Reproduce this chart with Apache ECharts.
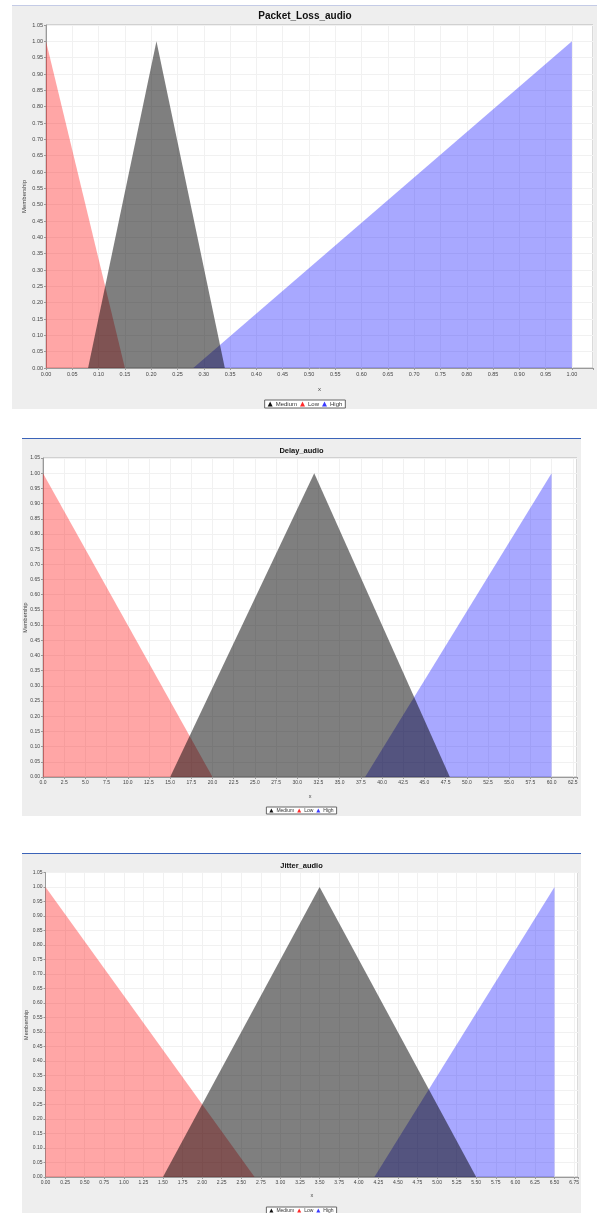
<!DOCTYPE html>
<html>
<head>
<meta charset="utf-8">
<script src="https://cdn.jsdelivr.net/npm/echarts@6/dist/echarts.min.js"></script>
<style>
  html, body { margin: 0; padding: 0; background: #ffffff; width: 597px; height: 1213px; overflow: hidden; }
  .panel { position: absolute; background: #eeeeee; }
</style>
</head>
<body>
<div id="ploss" class="panel" style="left:12px; top:5px; width:586px; height:403px; border-top:1px solid #c4cbe6;"></div>
<div id="delay" class="panel" style="left:22px; top:438px; width:559px; height:377px; border-top:1px solid #3b63b8;"></div>
<div id="jitter" class="panel" style="left:22px; top:853px; width:559px; height:360px; border-top:1px solid #3b63b8;"></div>
<script>
// Membership function vertices [x, membership]
const plossLow = [[0, 1], [0.15, 0]];
const plossMedium = [[0.08, 0], [0.21, 1], [0.34, 0]];
const plossHigh = [[0.28, 0], [1, 1]];

const delayLow = [[0, 1], [20, 0]];
const delayMedium = [[15, 0], [32, 1], [48, 0]];
const delayHigh = [[38, 0], [60, 1]];

const jitterLow = [[0, 1], [2.67, 0]];
const jitterMedium = [[1.5, 0], [3.5, 1], [5.5, 0]];
const jitterHigh = [[4.2, 0], [6.5, 1]];

const seriesNames = ['Medium', 'Low', 'High'];
const yTickStep = 0.05;
const yTop = 1.05;

const fillColors = {
  Medium: 'rgba(0,0,0,0.5)',
  Low: 'rgba(255,0,0,0.35)',
  High: 'rgba(0,0,255,0.34)'
};
const legendColors = { Medium: '#111111', Low: '#ff2a2a', High: '#3a3aff' };

function buildOption(cfg) {
  const sets = { Medium: cfg.medium, Low: cfg.low, High: cfg.high };
  const fmt = function (v) {
    const k = v / cfg.step;
    if (Math.abs(k - Math.round(k)) > 1e-6) return '';
    return v.toFixed(cfg.decimals);
  };
  return {
    animation: false,
    title: {
      text: cfg.title, left: 'center', top: cfg.titleTop,
      textStyle: { fontFamily: 'Liberation Sans', fontWeight: 'bold', fontSize: cfg.titleSize, color: '#111' }
    },
    legend: {
      bottom: cfg.legendBottom, left: 'center',
      data: seriesNames.map(n => ({ name: n, icon: 'triangle', itemStyle: { color: legendColors[n] } })),
      itemWidth: cfg.legendIcon, itemHeight: cfg.legendIcon, itemGap: 3,
      backgroundColor: '#ffffff', borderColor: '#666666', borderWidth: 1, borderRadius: 0,
      padding: [1, 3],
      textStyle: { fontFamily: 'Liberation Sans', fontSize: cfg.legendFont, color: '#333', padding: [0, 0, 0, -2] },
      selectedMode: false
    },
    grid: {
      left: cfg.grid[0], right: cfg.grid[1], top: cfg.grid[2], bottom: cfg.grid[3],
      containLabel: false, outerBoundsMode: 'none',
      backgroundColor: '#ffffff', show: true, borderColor: '#b5b5b5', borderWidth: 1
    },
    xAxis: {
      type: 'value', min: 0, max: cfg.xMax, interval: cfg.step,
      name: 'x', nameLocation: 'middle', nameGap: cfg.xNameGap, nameMoveOverlap: false,
      nameTextStyle: { fontFamily: 'Liberation Sans', fontSize: cfg.labelSize + 0.5, color: '#444' },
      axisLine: { show: true, lineStyle: { color: '#999999', width: 1 } },
      axisTick: { show: true, length: 2, lineStyle: { color: '#999999' } },
      axisLabel: { formatter: fmt, fontFamily: 'Liberation Sans', fontSize: cfg.labelSize, color: '#444', margin: 3, hideOverlap: false },
      splitLine: { show: true, lineStyle: { color: '#f1f1f1', width: 1 } }
    },
    yAxis: {
      type: 'value', min: 0, max: yTop, interval: yTickStep,
      name: 'Membership', nameLocation: 'middle', nameRotate: 90, nameGap: cfg.yNameGap, nameMoveOverlap: false,
      nameTextStyle: { fontFamily: 'Liberation Sans', fontSize: cfg.labelSize + 0.5, color: '#444' },
      axisLine: { show: true, lineStyle: { color: '#999999', width: 1 } },
      axisTick: { show: true, length: 2, lineStyle: { color: '#999999' } },
      axisLabel: { formatter: v => v.toFixed(2), fontFamily: 'Liberation Sans', fontSize: cfg.labelSize, color: '#444', margin: 3 },
      splitLine: { show: true, lineStyle: { color: '#f1f1f1', width: 1 } }
    },
    series: seriesNames.map(n => ({
      name: n,
      type: 'line',
      data: sets[n],
      z: n === 'Medium' ? 4 : 3,
      showSymbol: false,
      symbol: 'none',
      color: legendColors[n],
      lineStyle: { width: 0 },
      areaStyle: { color: fillColors[n], opacity: 1 },
      silent: true
    }))
  };
}

const charts = [
  {
    id: 'ploss', title: 'Packet_Loss_audio', titleTop: 0, titleSize: 10,
    low: plossLow, medium: plossMedium, high: plossHigh,
    xMax: 1.04, step: 0.05, decimals: 2,
    grid: [34, 5, 19, 41], labelSize: 5.5, xNameGap: 18, yNameGap: 19,
    legendBottom: 1, legendIcon: 5, legendFont: 6
  },
  {
    id: 'delay', title: 'Delay_audio', titleTop: 3, titleSize: 7.5,
    low: delayLow, medium: delayMedium, high: delayHigh,
    xMax: 63, step: 2.5, decimals: 1,
    grid: [21, 4, 19, 39], labelSize: 5, xNameGap: 16, yNameGap: 15,
    legendBottom: 2, legendIcon: 4, legendFont: 5
  },
  {
    id: 'jitter', title: 'Jitter_audio', titleTop: 3, titleSize: 7.5,
    low: jitterLow, medium: jitterMedium, high: jitterHigh,
    xMax: 6.8, step: 0.25, decimals: 2,
    grid: [23.5, 3, 18.5, 37], labelSize: 5, xNameGap: 15, yNameGap: 16,
    legendBottom: 0, legendIcon: 4, legendFont: 5
  }
];

charts.forEach(cfg => {
  const el = document.getElementById(cfg.id);
  const chart = echarts.init(el, null, { renderer: 'canvas' });
  chart.setOption(buildOption(cfg));
});
</script>
</body>
</html>
